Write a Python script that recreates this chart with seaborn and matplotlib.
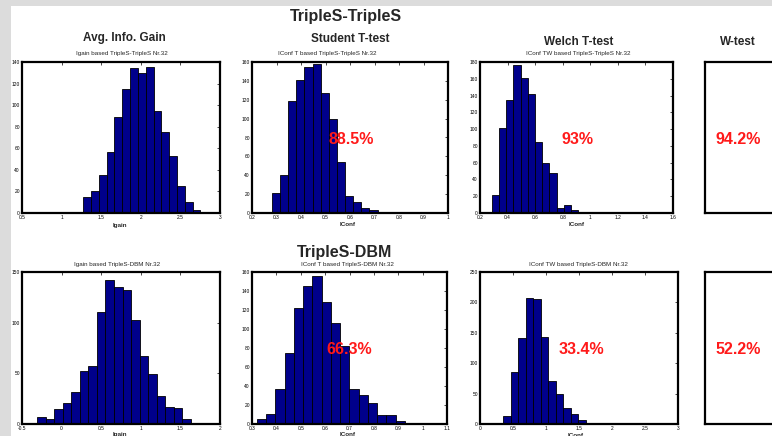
import numpy as np
import pandas as pd
import matplotlib
matplotlib.use("Agg")
import matplotlib.pyplot as plt
from matplotlib.patches import Rectangle
import seaborn as sns

# ---- histogram data: first bin edge, bin width, counts per bin ----
igain_tt_start, igain_tt_width = 0.878, 0.0987
igain_tt_counts = [1, 1, 1, 1, 15, 20, 35, 57, 89, 115, 134, 130, 135, 95, 75, 53, 25, 10, 3, 1]

tconf_tt_start, tconf_tt_width = 0.281, 0.0332
tconf_tt_counts = [21, 40, 119, 141, 155, 158, 127, 100, 54, 18, 12, 5, 3, 1, 1]

twconf_tt_start, twconf_tt_width = 0.2845, 0.0524
twconf_tt_counts = [22, 101, 135, 177, 161, 142, 85, 60, 48, 6, 9, 4, 1, 0, 0, 1, 1, 1]

igain_td_start, igain_td_width = -0.311, 0.108
igain_td_counts = [7, 5, 15, 21, 32, 52, 57, 111, 142, 135, 132, 103, 67, 49, 28, 17, 16, 5, 1, 1]

tconf_td_start, tconf_td_width = 0.3205, 0.0379
tconf_td_counts = [5, 11, 37, 75, 122, 145, 156, 128, 106, 82, 37, 31, 22, 10, 9, 3, 1, 1]

twconf_td_start, twconf_td_width = 0.353, 0.1134
twconf_td_counts = [13, 85, 142, 207, 206, 143, 71, 49, 26, 17, 6, 2]

# ---- texts ----
row_titles = ["TripleS-TripleS", "TripleS-DBM"]
method_titles = ["Avg. Info. Gain", "Student T-test", "Welch T-test", "W-test"]
panel_titles = [
    ["Igain based TripleS-TripleS Nr.32", "IConf T based TripleS-TripleS Nr.32",
     "IConf TW based TripleS-TripleS Nr.32"],
    ["Igain based TripleS-DBM Nr.32", "IConf T based TripleS-DBM Nr.32",
     "IConf TW based TripleS-DBM Nr.32"],
]
xlabels = ["Igain", "IConf", "IConf"]
pct_tt = ["88.5%", "93%", "94.2%"]
pct_td = ["66.3%", "33.4%", "52.2%"]

# ---- axis ranges and ticks ----
xlims = [[(0.5, 3.0), (0.2, 1.0), (0.2, 1.6)],
         [(-0.5, 2.0), (0.3, 1.1), (0.0, 3.0)]]
xsteps = [[0.5, 0.1, 0.2], [0.5, 0.1, 0.5]]
ylims = [[140, 160, 180], [150, 160, 250]]
ysteps = [[20, 20, 20], [50, 20, 50]]

hist_data = [
    [(igain_tt_start, igain_tt_width, igain_tt_counts),
     (tconf_tt_start, tconf_tt_width, tconf_tt_counts),
     (twconf_tt_start, twconf_tt_width, twconf_tt_counts)],
    [(igain_td_start, igain_td_width, igain_td_counts),
     (tconf_td_start, tconf_td_width, tconf_td_counts),
     (twconf_td_start, twconf_td_width, twconf_td_counts)],
]

sns.set_style("white")
plt.rcParams["font.family"] = ["Liberation Sans", "DejaVu Sans"]

W, H = 772, 436
fig = plt.figure(figsize=(W / 100, H / 100), dpi=100)
fig.patch.set_facecolor("white")

# light gray frame strips along top and left
fig.patches.append(Rectangle((0, 1 - 6 / H), 1, 6 / H, transform=fig.transFigure,
                             facecolor="#dcdcdc", edgecolor="none", zorder=0))
fig.patches.append(Rectangle((0, 0), 11 / W, 1, transform=fig.transFigure,
                             facecolor="#dcdcdc", edgecolor="none", zorder=0))


def px_axes(x0, y0, x1, y1):
    return fig.add_axes([x0 / W, 1 - y1 / H, (x1 - x0) / W, (y1 - y0) / H])


row_boxes = [(62, 213), (272, 424)]
col_boxes = [[(22, 220), (252, 448), (480, 673)],
             [(22, 220), (252, 447), (480, 678)]]
title_pos = [[(122, 53), (327, 53), (578, 53)],
             [(117, 264), (347, 264), (578, 264)]]
xlabel_pos = [[(120, 225), (348, 225), (577, 225)],
              [(120, 434), (348, 434), (576, 435)]]
pct_pos = [[(351, 139), (577, 139), (738, 139)],
           [(349, 349), (581, 349), (738, 349)]]
pct_texts = [pct_tt, pct_td]

for r in range(2):
    y0, y1 = row_boxes[r]
    for c in range(3):
        x0, x1 = col_boxes[r][c]
        ax = px_axes(x0, y0, x1, y1)
        start, width, counts = hist_data[r][c]
        n = len(counts)
        edges = [float(start + width * k) for k in range(n + 1)]
        centers = [(edges[k] + edges[k + 1]) / 2 for k in range(n)]
        df = pd.DataFrame({"value": centers, "count": counts})
        sns.histplot(data=df, x="value", weights="count", bins=edges, ax=ax,
                     color="#00008b", edgecolor="black", linewidth=0.6, alpha=1.0)
        lo, hi = xlims[r][c]
        ax.set_xlim(lo, hi)
        ax.set_ylim(0, ylims[r][c])
        xt = np.round(np.arange(lo, hi + 1e-9, xsteps[r][c]), 2)
        ax.set_xticks(xt)
        ax.set_xticklabels([f"{v:g}" for v in xt])
        yt = np.arange(0, ylims[r][c] + 1, ysteps[r][c])
        ax.set_yticks(yt)
        ax.set_xlabel("")
        ax.set_ylabel("")
        ax.tick_params(direction="in", top=True, right=True, length=2, width=0.5,
                       labelsize=3.5, pad=1.5, colors="black")
        for s in ax.spines.values():
            s.set_visible(True)
            s.set_linewidth(1.6)
            s.set_color("black")
        tx, ty = title_pos[r][c]
        fig.text(tx / W, 1 - ty / H, panel_titles[r][c], ha="center", va="center",
                 fontsize=4.5)
        lx, ly = xlabel_pos[r][c]
        fig.text(lx / W, 1 - ly / H, xlabels[c], ha="center", va="center",
                 fontsize=4.5, fontweight="bold")

    # W-test panel: empty framed box
    axw = px_axes(705, y0, 815, y1)
    axw.set_xticks([])
    axw.set_yticks([])
    for s in axw.spines.values():
        s.set_visible(True)
        s.set_linewidth(1.6)
        s.set_color("black")

    for c in range(3):
        px, py = pct_pos[r][c]
        fig.text(px / W, 1 - py / H, pct_texts[r][c], ha="center", va="center",
                 fontsize=11.5, fontweight="bold", color="#ff1a1a")

# headline texts
fig.text(346 / W, 1 - 17 / H, row_titles[0], ha="center", va="center",
         fontsize=11.5, fontweight="bold")
fig.text(345 / W, 1 - 252 / H, row_titles[1], ha="center", va="center",
         fontsize=11.5, fontweight="bold")
for (mx, my), t in zip([(124, 38), (350, 39), (579, 42), (738, 42)], method_titles):
    fig.text(mx / W, 1 - my / H, t, ha="center", va="center",
             fontsize=8.5, fontweight="bold")

fig.savefig("out.png", dpi=100)
